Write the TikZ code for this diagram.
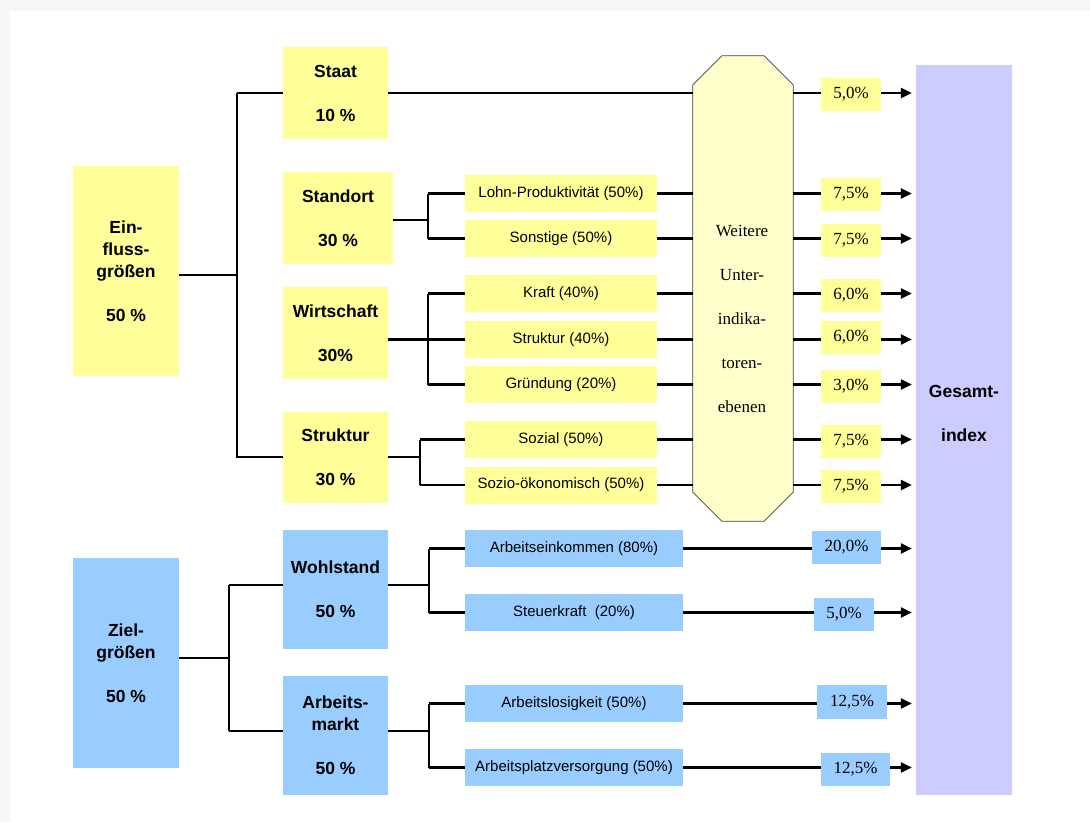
\documentclass[tikz,border=0pt]{standalone}
\usepackage{fontspec}
\setmainfont{Liberation Serif}
\newfontfamily\arial{Liberation Sans}
\usetikzlibrary{arrows.meta}
\definecolor{ylw}{HTML}{FFFF99}
\definecolor{lylw}{HTML}{FFFFCC}
\definecolor{blu}{HTML}{99CCFF}
\definecolor{lav}{HTML}{CCCCFF}
\definecolor{bggrey}{HTML}{F7F7F7}
\tikzset{
  mainbox/.style={inner sep=0pt, align=center, font=\arial\bfseries\fontsize{17.5}{22}\selectfont},
  subbox/.style={inner sep=0pt, minimum width=192pt, minimum height=37pt, fill=ylw, font=\arial\fontsize{15}{18}\selectfont},
  bsubbox/.style={subbox, minimum width=218pt, fill=blu},
  pctbox/.style={inner sep=0pt, minimum width=60pt, minimum height=33pt, fill=ylw, font=\fontsize{17}{20}\selectfont},
  bpctbox/.style={pctbox, fill=blu},
  thinln/.style={line width=1.2pt, black},
  thickln/.style={line width=2.4pt, black},
  arr/.style={line width=2.4pt, -{Triangle[length=11pt,width=10pt]}, shorten >=4pt},
}
\begin{document}
\begin{tikzpicture}[x=1pt,y=-1pt]
\useasboundingbox (0,0) rectangle (1090,822);
\fill[bggrey] (0,0) rectangle (1090,822);
\fill[white] (10,11) rectangle (1090,822);

% left main boxes
\node[mainbox, fill=ylw, minimum width=106pt, minimum height=210pt] (einf) at (126,271) {Ein-\\fluss-\\größen\\[22pt]50 \%};
\node[mainbox, fill=blu, minimum width=106pt, minimum height=210pt] (ziel) at (126,663) {Ziel-\\größen\\[22pt]50 \%};

% second level
\node[mainbox, fill=ylw, minimum width=105pt, minimum height=92pt] (staat) at (335.5,93) {Staat\\[22pt]10 \%};
\node[mainbox, fill=ylw, minimum width=110pt, minimum height=92pt] (std) at (338,218) {Standort\\[22pt]30 \%};
\node[mainbox, fill=ylw, minimum width=105pt, minimum height=92pt] (wirt) at (335.5,333) {Wirtschaft\\[22pt]30\%};
\node[mainbox, fill=ylw, minimum width=105pt, minimum height=91pt] (strk) at (335.5,457.5) {Struktur\\[22pt]30 \%};
\node[mainbox, fill=blu, minimum width=105pt, minimum height=119pt] (wohl) at (335.5,589.5) {Wohlstand\\[22pt]50 \%};
\node[mainbox, fill=blu, minimum width=105pt, minimum height=119pt] (arbm) at (335.5,735.5) {Arbeits-\\markt\\[22pt]50 \%};

% third level
\node[subbox] (lohn) at (561,193.5) {Lohn-Produktivität (50\%)};
\node[subbox] (sonst) at (561,238.5) {Sonstige (50\%)};
\node[subbox] (kraft) at (561,293.5) {Kraft (40\%)};
\node[subbox] (ks) at (561,339.5) {Struktur (40\%)};
\node[subbox] (grund) at (561,384.5) {Gründung (20\%)};
\node[subbox] (soz) at (561,439.5) {Sozial (50\%)};
\node[subbox] (sozoek) at (561,485) {Sozio-ökonomisch (50\%)};
\node[bsubbox] (aek) at (574,548.5) {Arbeitseinkommen (80\%)};
\node[bsubbox] (stk) at (574,612.5) {Steuerkraft\ \ (20\%)};
\node[bsubbox] (alo) at (574,703.5) {Arbeitslosigkeit (50\%)};
\node[bsubbox] (apv) at (574,767.5) {Arbeitsplatzversorgung (50\%)};

% octagon (anchor frame + drawn outline)
\node[minimum width=100pt, minimum height=465pt, inner sep=0pt] (oct) at (743,288.5) {};
\filldraw[fill=lylw, draw=black!75, line width=0.8pt]
  ([xshift=29pt]oct.north west) -- ([xshift=-29pt]oct.north east)
  -- ([yshift=-29pt]oct.north east) -- ([yshift=29pt]oct.south east)
  -- ([xshift=-29pt]oct.south east) -- ([xshift=29pt]oct.south west)
  -- ([yshift=29pt]oct.south west) -- ([yshift=-29pt]oct.north west) -- cycle;
\node[align=center, inner sep=0pt, font=\fontsize{17}{22}\selectfont] (octtxt) at (742,318.5)
  {Weitere\\[22pt]Unter-\\[22pt]indika-\\[22pt]toren-\\[22pt]ebenen};

% Gesamtindex
\node[fill=lav, minimum width=96pt, minimum height=730pt, inner sep=0pt] (ges) at (964,430) {};
\node[mainbox] (gestxt) at (964,413) {Gesamt-\\[22pt]index};

% percentage boxes
\node[pctbox] (p1) at (851,94.5) {5,0\%};
\node[pctbox] (p2) at (851,194.5) {7,5\%};
\node[pctbox] (p3) at (851,240.5) {7,5\%};
\node[pctbox] (p4) at (851,295.5) {6,0\%};
\node[pctbox] (p5) at (851,337.5) {6,0\%};
\node[pctbox] (p6) at (851,386.5) {3,0\%};
\node[pctbox] (p7) at (851,441.5) {7,5\%};
\node[pctbox] (p8) at (851,486.5) {7,5\%};
\node[bpctbox, minimum width=69pt] (q1) at (846.5,547.5) {20,0\%};
\node[bpctbox] (q2) at (844,614.5) {5,0\%};
\node[bpctbox, minimum width=70pt, minimum height=34pt] (q3) at (852,702) {12,5\%};
\node[bpctbox, minimum width=69pt] (q4) at (855.5,769.5) {12,5\%};

% bracket coordinates
\coordinate (bE) at (237,275);
\coordinate (bS) at (428,220);
\coordinate (bW) at (428,339);
\coordinate (bT) at (420,457);
\coordinate (bZ) at (229,658);
\coordinate (bZa) at (229,585);
\coordinate (bZb) at (229,731);
\coordinate (bWo) at (429,585);
\coordinate (bA) at (429,731);

% Einflussgroessen bracket
\draw[thinln] (einf.east |- bE) -- (bE);
\draw[thinln] (bE |- staat) -- (bE |- strk);
\draw[thickln] (bE |- staat) -- (staat.west);
\draw[thinln] (bE |- bT) -- (strk.west |- bT);

% Staat row
\draw[thickln] (staat.east) -- (staat.east -| oct.west);

% Standort
\draw[thinln] (std.east |- bS) -- (bS);
\draw[thinln] (bS |- lohn) -- (bS |- sonst);
\draw[thickln] (bS |- lohn) -- (lohn.west);
\draw[thickln] (bS |- sonst) -- (sonst.west);

% Wirtschaft
\draw[thickln] (wirt.east |- ks) -- (ks.west);
\draw[thinln] (bW |- kraft) -- (bW |- grund);
\draw[thickln] (bW |- kraft) -- (kraft.west);
\draw[thickln] (bW |- grund) -- (grund.west);

% Struktur
\draw[thinln] (strk.east |- bT) -- (bT);
\draw[thinln] (bT |- soz) -- (bT |- sozoek);
\draw[thickln] (bT |- soz) -- (soz.west);
\draw[thickln] (bT |- sozoek) -- (sozoek.west);

% yellow subs to octagon
\foreach \s in {lohn,sonst,kraft,ks,grund,soz,sozoek}
  \draw[thickln] (\s.east) -- (\s.east -| oct.west);

% octagon to pct boxes and arrows
\foreach \s/\p in {staat/p1,lohn/p2,sonst/p3,kraft/p4,ks/p5,grund/p6,soz/p7,sozoek/p8}{
  \draw[thickln] (oct.east |- \s) -- (\p.west |- \s);
  \draw[arr] (\p.east |- \s) -- (ges.west |- \s);
}

% Zielgroessen bracket
\draw[thinln] (ziel.east |- bZ) -- (bZ);
\draw[thinln] (bZa) -- (bZb);
\draw[thinln] (bZa) -- (wohl.west |- bZa);
\draw[thinln] (bZb) -- (arbm.west |- bZb);

% Wohlstand
\draw[thinln] (wohl.east |- bWo) -- (bWo);
\draw[thinln] (bWo |- aek) -- (bWo |- stk);
\draw[thickln] (bWo |- aek) -- (aek.west);
\draw[thickln] (bWo |- stk) -- (stk.west);

% Arbeitsmarkt
\draw[thinln] (arbm.east |- bA) -- (bA);
\draw[thinln] (bA |- alo) -- (bA |- apv);
\draw[thickln] (bA |- alo) -- (alo.west);
\draw[thickln] (bA |- apv) -- (apv.west);

% blue subs to pct boxes and arrows
\foreach \s/\p in {aek/q1,stk/q2,alo/q3,apv/q4}{
  \draw[thickln] (\s.east) -- (\p.west |- \s.east);
  \draw[arr] (\p.east |- \s.east) -- (ges.west |- \s.east);
}
\end{tikzpicture}
\end{document}
